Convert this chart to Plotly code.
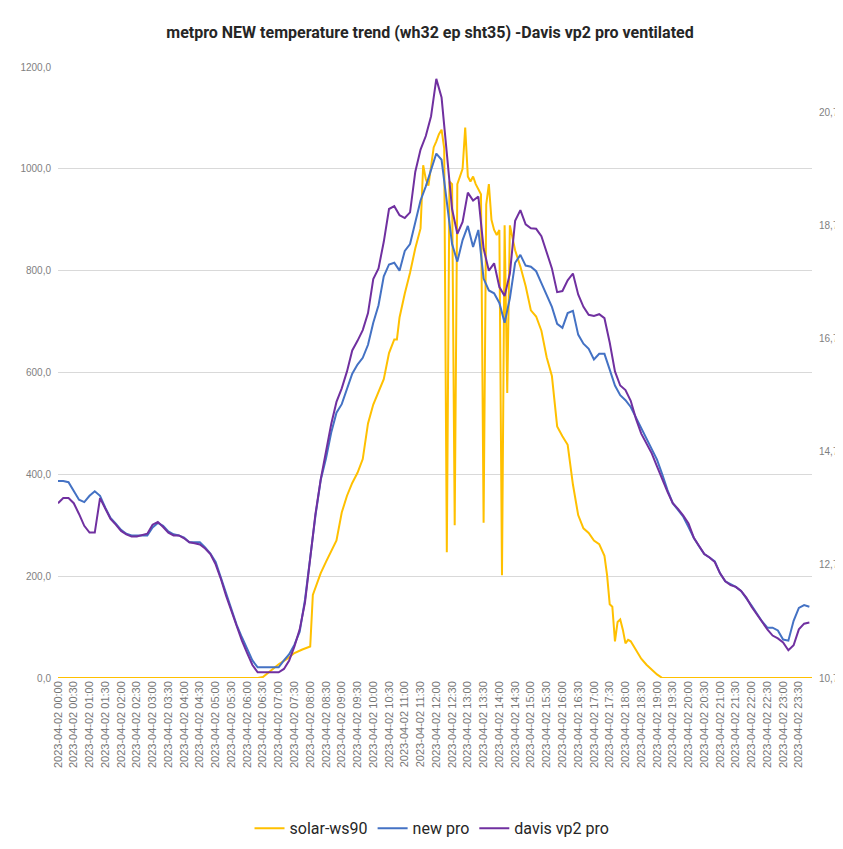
import plotly.graph_objects as go
import pandas as pd

DATE = "2023-04-02"

# temperatures every 10 minutes, 00:00 .. 23:50 (deg C)
temp_times = pd.date_range(f"{DATE} 00:00", periods=144, freq="10min")

new_pro = [
    14.18, 14.18, 14.16, 14.00, 13.85, 13.81, 13.92, 14.00, 13.92, 13.71,
    13.53, 13.43, 13.32, 13.25, 13.22, 13.22, 13.22, 13.22, 13.36, 13.44,
    13.39, 13.29, 13.24, 13.22, 13.18, 13.10, 13.10, 13.10, 13.01, 12.90,
    12.75, 12.48, 12.19, 11.92, 11.64, 11.42, 11.21, 11.01, 10.89, 10.89,
    10.89, 10.89, 10.89, 11.01, 11.12, 11.29, 11.52, 12.08, 12.83, 13.57,
    14.20, 14.58, 15.04, 15.39, 15.54, 15.82, 16.08, 16.24, 16.36, 16.59,
    16.98, 17.29, 17.80, 18.01, 18.04, 17.90, 18.25, 18.37, 18.76, 19.14,
    19.39, 19.69, 19.97, 19.86, 19.09, 18.37, 18.06, 18.44, 18.69, 18.32,
    18.62, 17.76, 17.55, 17.50, 17.33, 16.98, 17.41, 18.04, 18.18, 17.99,
    17.97, 17.89, 17.68, 17.48, 17.26, 16.96, 16.89, 17.15, 17.19, 16.77,
    16.61, 16.52, 16.33, 16.43, 16.43, 16.15, 15.87, 15.70, 15.61, 15.49,
    15.30, 15.12, 14.95, 14.76, 14.56, 14.30, 14.02, 13.79, 13.67, 13.55,
    13.37, 13.18, 13.03, 12.89, 12.83, 12.76, 12.55, 12.41, 12.36, 12.31,
    12.24, 12.12, 11.98, 11.84, 11.70, 11.59, 11.59, 11.54, 11.38, 11.36,
    11.71, 11.94, 11.99, 11.96,
]

davis_vp2_pro = [
    13.79, 13.88, 13.88, 13.79, 13.60, 13.39, 13.27, 13.27, 13.88, 13.69,
    13.51, 13.41, 13.30, 13.24, 13.20, 13.20, 13.22, 13.25, 13.41, 13.46,
    13.37, 13.27, 13.22, 13.22, 13.17, 13.10, 13.08, 13.06, 12.99, 12.89,
    12.71, 12.45, 12.15, 11.89, 11.61, 11.36, 11.14, 10.93, 10.80, 10.80,
    10.80, 10.80, 10.80, 10.86, 11.01, 11.26, 11.56, 12.03, 12.78, 13.60,
    14.21, 14.70, 15.19, 15.58, 15.82, 16.12, 16.49, 16.66, 16.85, 17.15,
    17.75, 17.94, 18.41, 18.99, 19.04, 18.88, 18.83, 18.93, 19.65, 20.04,
    20.28, 20.63, 21.29, 20.96, 20.00, 18.99, 18.55, 18.76, 19.28, 19.14,
    19.21, 18.29, 17.90, 18.03, 17.61, 17.45, 17.85, 18.78, 18.97, 18.72,
    18.65, 18.64, 18.51, 18.22, 17.94, 17.52, 17.54, 17.73, 17.85, 17.48,
    17.26, 17.12, 17.10, 17.13, 17.06, 16.63, 16.12, 15.87, 15.79, 15.60,
    15.28, 15.02, 14.84, 14.67, 14.44, 14.21, 13.99, 13.79, 13.69, 13.57,
    13.43, 13.18, 13.04, 12.89, 12.83, 12.75, 12.55, 12.41, 12.34, 12.31,
    12.24, 12.12, 11.96, 11.82, 11.70, 11.56, 11.45, 11.40, 11.33, 11.19,
    11.28, 11.56, 11.66, 11.68,
]

# solar radiation (W/m2) at read-off times
solar_clock = [
    "00:00", "06:20", "06:30", "06:45", "07:00", "07:15", "07:30", "07:45",
    "08:00", "08:05", "08:10", "08:20", "08:30", "08:40", "08:50", "09:00",
    "09:10", "09:20", "09:30", "09:40", "09:50", "10:00", "10:10", "10:20",
    "10:30", "10:40", "10:45", "10:50", "11:00", "11:10", "11:20", "11:30",
    "11:35", "11:40", "11:45", "11:50", "11:55", "12:00", "12:05", "12:10",
    "12:15", "12:20", "12:25", "12:30", "12:35", "12:40", "12:45", "12:50",
    "12:55", "13:00", "13:05", "13:10", "13:15", "13:20", "13:25", "13:30",
    "13:35", "13:40", "13:45", "13:50", "13:55", "14:00", "14:05", "14:10",
    "14:15", "14:20", "14:30", "14:40", "14:50", "15:00", "15:10", "15:20",
    "15:30", "15:40", "15:50", "16:00", "16:10", "16:20", "16:30", "16:40",
    "16:50", "17:00", "17:10", "17:20", "17:25", "17:30", "17:35", "17:40",
    "17:45", "17:50", "17:55", "18:00", "18:05", "18:10", "18:20", "18:30",
    "18:40", "18:50", "19:00", "19:10", "23:55",
]
solar_ws90 = [
    0, 0, 2, 14, 27, 37, 49, 56,
    62, 163, 177, 206, 228, 249, 270, 325,
    358, 383, 403, 430, 500, 537, 564, 587,
    638, 665, 665, 708, 755, 796, 844, 883,
    1007, 980, 967, 1009, 1042, 1054, 1068, 1077,
    1040, 247, 975, 970, 300, 970, 985, 1000,
    1081, 985, 975, 985, 970, 960, 950, 305,
    930, 970, 900, 880, 870, 880, 202, 889,
    560, 889, 840, 808, 770, 722, 710, 682,
    630, 593, 494, 475, 458, 380, 320, 294,
    285, 270, 263, 240, 202, 145, 140, 72,
    110, 115, 95, 68, 75, 72, 55, 38,
    26, 16, 7, 0, 0,
]
solar_times = pd.to_datetime([f"{DATE} {c}" for c in solar_clock])

tick_times = pd.date_range(f"{DATE} 00:00", periods=48, freq="30min")
tick_labels = [t.strftime("%Y-%m-%d %H:%M") for t in tick_times]

left_ticks = [0, 200, 400, 600, 800, 1000, 1200]
left_labels = ["0,0", "200,0", "400,0", "600,0", "800,0", "1000,0", "1200,0"]
right_ticks = [10.7, 12.7, 14.7, 16.7, 18.7, 20.7]
right_labels = ["10,7", "12,7", "14,7", "16,7", "18,7", "20,7"]

fig = go.Figure()
fig.add_trace(go.Scatter(x=solar_times, y=solar_ws90, name="solar-ws90", mode="lines",
                         line=dict(color="#FFC000", width=2), yaxis="y"))
fig.add_trace(go.Scatter(x=temp_times, y=new_pro, name="new pro", mode="lines",
                         line=dict(color="#4472C4", width=2), yaxis="y2"))
fig.add_trace(go.Scatter(x=temp_times, y=davis_vp2_pro, name="davis vp2 pro", mode="lines",
                         line=dict(color="#7030A0", width=2), yaxis="y2"))

axis_font = dict(family="Liberation Sans, Arial, sans-serif", size=10, color="#7f7f7f")

# the page body has an 8 px margin, so the figure is offset by (8, 8) on screen
fig.update_layout(
    width=843, height=849,
    margin=dict(l=47, r=38, t=59, b=168),
    paper_bgcolor="white", plot_bgcolor="white",
    title=dict(text="metpro NEW temperature trend (wh32 ep sht35) -Davis vp2 pro ventilated",
               x=(430 - 8) / 843, xanchor="center", y=1 - 24 / 849, yanchor="middle",
               font=dict(family="Roboto, sans-serif", size=16, color="#262626", weight="bold")),
    xaxis=dict(type="date", range=[f"{DATE} 00:00", f"{DATE} 23:55"],
               tickvals=list(tick_times), ticktext=tick_labels, tickangle=-90,
               tickfont=dict(family="Liberation Sans, Arial, sans-serif", size=11, color="#767676"),
               showgrid=False, showline=False, ticks="", zeroline=False),
    yaxis=dict(range=[0, 1200], tickvals=left_ticks, ticktext=left_labels,
               tickfont=axis_font, showgrid=True, gridcolor="#d9d9d9", gridwidth=1,
               zeroline=False, showline=False, ticks="", ticklabelstandoff=6),
    yaxis2=dict(range=[10.7, 21.5], tickvals=right_ticks, ticktext=right_labels,
                overlaying="y", side="right", tickfont=axis_font, showgrid=False,
                zeroline=False, showline=False, ticks="", ticklabelstandoff=6),
    legend=dict(orientation="h", x=(431 - 8 - 47) / 758, xanchor="center",
                y=-0.246, yanchor="middle",
                font=dict(family="Roboto, sans-serif", size=16, color="#262626"),
                itemwidth=30, traceorder="normal"),
    showlegend=True,
)

fig.write_html("out.html")
